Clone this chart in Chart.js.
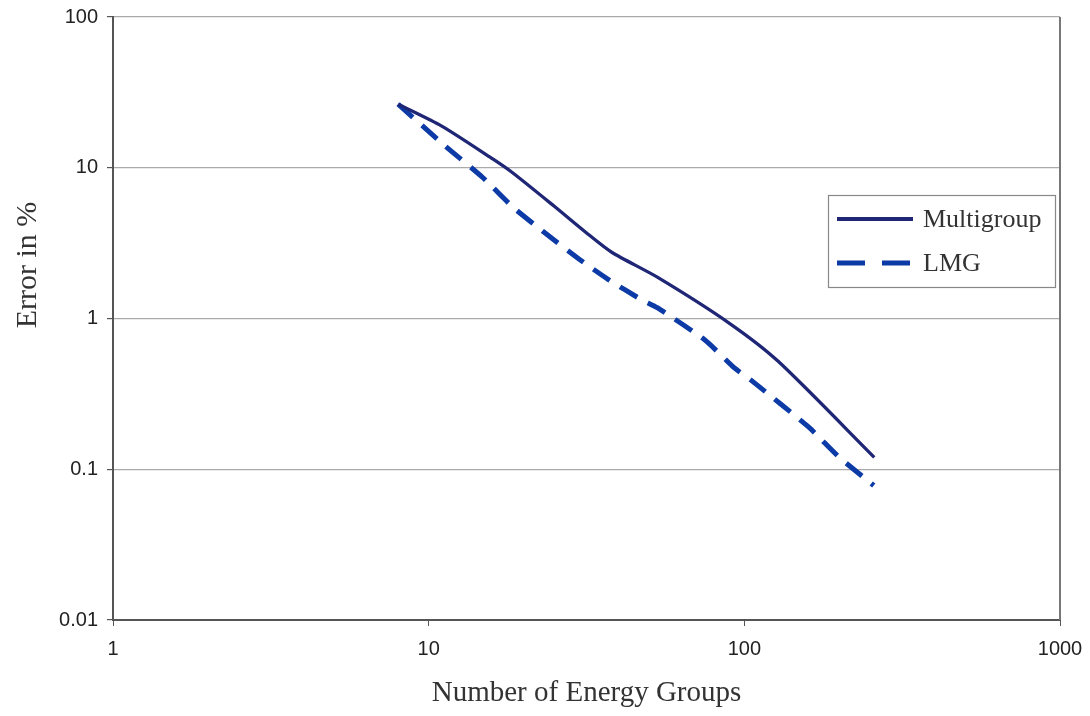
<!DOCTYPE html>
<html lang="en">
<head>
  <meta charset="UTF-8">
  <title>Error vs Energy Groups</title>
  <script src="https://cdn.jsdelivr.net/npm/chart.js"></script>
  <style>
    html, body { margin: 0; padding: 0; background: #fff; }
    #wrap { width: 1090px; height: 716px; }
  </style>
</head>
<body>
  <div id="wrap"><canvas id="errChart" width="1090" height="716"></canvas></div>
  <script>
    // values (log-log)
    const multigroupX = [8, 11, 16, 18.4, 25, 31.5, 38, 53, 89, 128, 258];
    const multigroupY = [26.4, 18.9, 11.4, 9.3, 5.55, 3.72, 2.75, 1.88, 0.94, 0.52, 0.12];
    const lmgX = [8, 11.3, 14.8, 18.5, 23, 30, 37, 47, 53, 75, 93, 105, 160, 199, 257];
    const lmgY = [26.4, 13.9, 8.65, 5.47, 3.79, 2.47, 1.82, 1.34, 1.18, 0.72, 0.47, 0.39, 0.19, 0.121, 0.078];
    const xTicks = [1, 10, 100, 1000];
    const yTicks = [0.01, 0.1, 1, 10, 100];
    const seriesNames = ['Multigroup', 'LMG'];
    const yTitle = 'Error in %';

    const toPoints = (xs, ys) => xs.map((x, i) => ({ x: x, y: ys[i] }));

    const tickFont = { family: 'Liberation Sans', size: 20 };
    const titleFont = { family: 'Liberation Serif', size: 29 };

    // legend box inside the plot, frame edge and the y title (placed like the original)
    const boxLegend = {
      id: 'boxLegend',
      afterDraw(chart) {
        const c = chart.ctx;
        const a = chart.chartArea;
        c.save();
        c.strokeStyle = '#777';
        c.lineWidth = 2;
        c.beginPath();
        c.moveTo(a.right, a.top);
        c.lineTo(a.right, a.bottom);
        c.stroke();

        // y title
        c.save();
        c.translate(28, 265);
        c.rotate(-Math.PI / 2);
        c.fillStyle = '#333';
        c.font = '30px "Liberation Serif"';
        c.textAlign = 'center';
        c.textBaseline = 'middle';
        c.fillText(yTitle, 0, 0);
        c.restore();

        const bx = 828, by = 195, bw = 227, bh = 92;
        c.fillStyle = '#fff';
        c.fillRect(bx, by, bw, bh);
        c.strokeStyle = '#888';
        c.lineWidth = 1.2;
        c.strokeRect(bx + 0.5, by + 0.5, bw, bh);

        const rows = [219, 263];
        chart.data.datasets.forEach((ds, i) => {
          c.strokeStyle = ds.borderColor;
          c.lineWidth = i === 0 ? 4 : ds.borderWidth;
          c.setLineDash(i === 1 ? [28, 17] : []);
          c.beginPath();
          c.moveTo(837, rows[i]);
          c.lineTo(913, rows[i]);
          c.stroke();
          c.setLineDash([]);
          c.fillStyle = '#333';
          c.font = '26px "Liberation Serif"';
          c.textBaseline = 'middle';
          c.fillText(ds.label, 923, rows[i] + 1);
        });
        c.restore();
      }
    };

    const ctx = document.getElementById('errChart').getContext('2d');
    const errChart = new Chart(ctx, {
      type: 'line',
      data: {
        datasets: [{
          label: seriesNames[0],
          data: toPoints(multigroupX, multigroupY),
          borderColor: '#1e2675',
          borderWidth: 3.3,
          pointRadius: 0,
          tension: 0.25,
          fill: false
        }, {
          label: seriesNames[1],
          data: toPoints(lmgX, lmgY),
          borderColor: '#0c3aa6',
          borderWidth: 5,
          borderDash: [20, 12],
          pointRadius: 0,
          tension: 0.2,
          fill: false
        }]
      },
      options: {
        responsive: false,
        animation: false,
        layout: { padding: { top: 17, right: 30, left: 0, bottom: 0 } },
        plugins: {
          legend: { display: false },
          tooltip: { enabled: false }
        },
        scales: {
          x: {
            type: 'logarithmic',
            min: 1,
            max: 1000,
            afterBuildTicks: (s) => { s.ticks = xTicks.map(v => ({ value: v })); },
            afterFit: (s) => { s.height = 96; s.paddingRight = 0; s.paddingLeft = 0; },
            border: { display: true, color: '#555', width: 2 },
            grid: { drawOnChartArea: false, tickLength: 6, color: '#555' },
            ticks: {
              font: tickFont,
              color: '#222',
              padding: 11,
              maxRotation: 0,
              callback: (v) => String(v)
            },
            title: {
              display: true,
              text: 'Number of Energy Groups',
              font: titleFont,
              color: '#333',
              padding: { top: 0, bottom: 5 }
            }
          },
          y: {
            type: 'logarithmic',
            min: 0.01,
            max: 100,
            afterBuildTicks: (s) => { s.ticks = yTicks.map(v => ({ value: v })); },
            afterFit: (s) => { s.width = 113; s.paddingTop = 0; s.paddingBottom = 0; },
            border: { display: true, color: '#555', width: 2 },
            grid: { color: '#aaa', lineWidth: 1.2, tickLength: 6, tickColor: '#555' },
            ticks: {
              font: tickFont,
              color: '#222',
              padding: 9,
              callback: (v) => String(v)
            },
            title: { display: false }
          }
        }
      },
      plugins: [boxLegend]
    });
  </script>
</body>
</html>
